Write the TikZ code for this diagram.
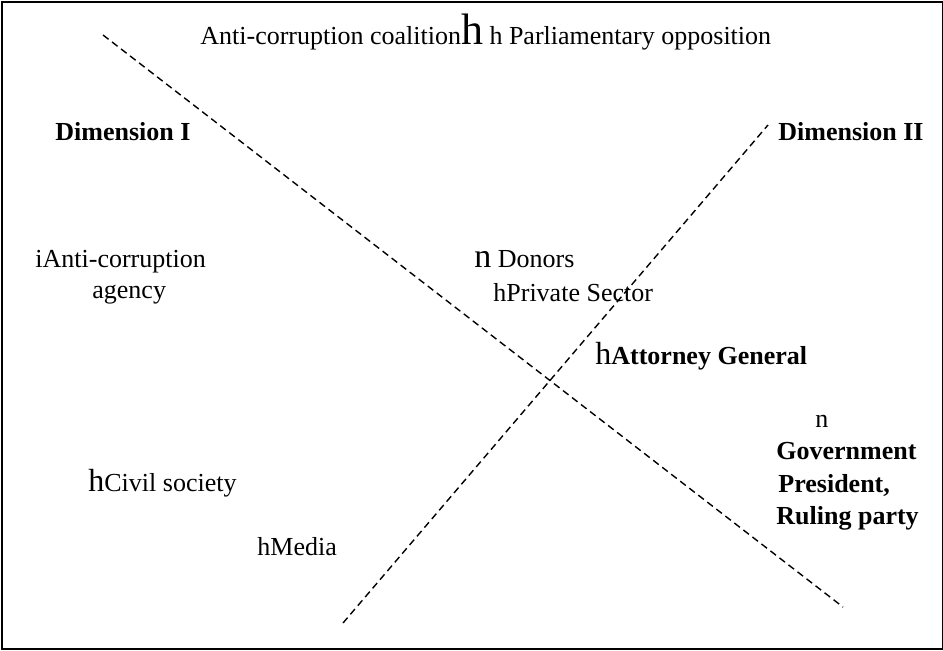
\documentclass[tikz,border=0pt]{standalone}
\usepackage{fontspec}
\setmainfont{Liberation Serif}
\begin{document}
\begin{tikzpicture}[x=0.5pt,y=-0.5pt,
  lbl/.style={inner sep=0pt,anchor=base west,font=\fontsize{13}{15}\selectfont},
  blbl/.style={lbl,font=\fontsize{13}{15}\selectfont\bfseries},
  dim/.style={dashed,dash pattern=on 3.5pt off 2.2pt,line width=0.7pt}]
\useasboundingbox (0,0) rectangle (943,650);
\node[draw,line width=1pt,minimum width=940.5*0.5pt,minimum height=646.5*0.5pt,anchor=north west,inner sep=0pt] (frame) at (1.25,1.25) {};
% dashed dimension lines
\coordinate (d1a) at (103,35);
\coordinate (d1b) at (843,607);
\coordinate (d2a) at (343,623);
\coordinate (d2b) at (768,125);
\draw[dim] (d1a) -- (d1b);
\draw[dim] (d2a) -- (d2b);
% texts
\node[lbl] (top) at (200,44) {Anti-corruption coalition{\fontsize{22}{22}\selectfont h} h Parliamentary opposition};
\node[blbl] (dimI) at (55,140) {Dimension I};
\node[blbl] (dimII) at (778,140) {Dimension II};
\node[lbl] (aca1) at (35,267) {iAnti-corruption};
\node[lbl] (aca2) at (92,298) {agency};
\node[lbl] (donors) at (474,267) {{\fontsize{17}{17}\selectfont n} Donors};
\node[lbl] (priv) at (493,301) {hPrivate Sector};
\node[lbl] (att) at (595,364) {{\fontsize{16}{16}\selectfont h}\textbf{Attorney General}};
\node[lbl] (govn) at (815,427) {n};
\node[blbl] (gov1) at (776,459) {Government};
\node[blbl] (gov2) at (778,492) {President,};
\node[blbl] (gov3) at (776,524) {Ruling party};
\node[lbl] (civil) at (88,491) {{\fontsize{16}{16}\selectfont h}Civil society};
\node[lbl] (media) at (257,555) {hMedia};
\end{tikzpicture}
\end{document}
